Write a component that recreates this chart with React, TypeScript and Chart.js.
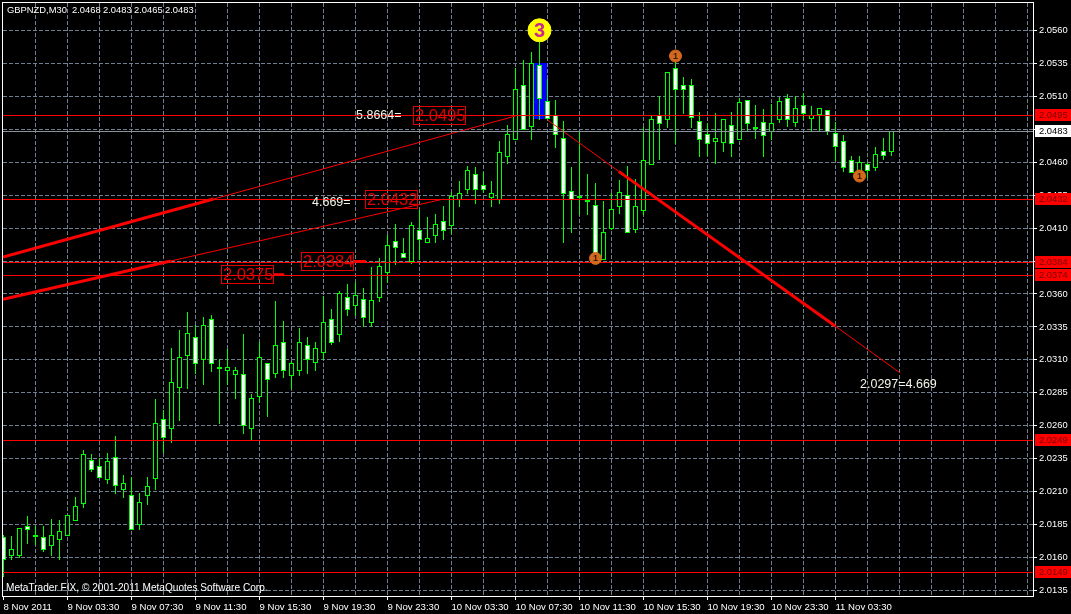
import React, { useEffect, useRef } from "react";
import { Chart, registerables } from "chart.js";

Chart.register(...registerables);

const opens = [
  2.0175, 2.0162, 2.0162, 2.0184, 2.0177, 2.0175, 2.0169, 2.0174, 2.0177, 2.0188, 2.0201, 2.0234, 2.0229, 2.0219, 2.0236, 2.0212,
  2.0207, 2.0185, 2.0207, 2.0220, 2.0265, 2.0258, 2.0289, 2.0313, 2.0327, 2.0310, 2.0341, 2.0304, 2.0302, 2.0299, 2.0299, 2.0258,
  2.0282, 2.0307, 2.0300, 2.0323, 2.0298, 2.0302, 2.0321, 2.0308, 2.0316, 2.0341, 2.0329, 2.0357, 2.0351, 2.0356, 2.0338, 2.0357,
  2.0376, 2.0400, 2.0391, 2.0385, 2.0408, 2.0399, 2.0404, 2.0415, 2.0412, 2.0432, 2.0439, 2.0451, 2.0442, 2.0433, 2.0432, 2.0464,
  2.0477, 2.0518, 2.0487, 2.0533, 2.0506, 2.0495, 2.0478, 2.0438, 2.0434, 2.0431, 2.0427, 2.0386, 2.0410, 2.0426, 2.0435, 2.0409,
  2.0423, 2.0458, 2.0495, 2.0492, 2.0531, 2.0518, 2.0518, 2.0491, 2.0481, 2.0476, 2.0475, 2.0488, 2.0477, 2.0507, 2.0486, 2.0490,
  2.0483, 2.0492, 2.0508, 2.0490, 2.0503, 2.0493, 2.0496, 2.0499, 2.0482, 2.0476, 2.0461, 2.0451, 2.0458, 2.0456, 2.0468, 2.0468,
];
const highs = [
  2.0177, 2.0176, 2.0182, 2.0191, 2.0184, 2.0184, 2.0189, 2.0188, 2.0192, 2.0206, 2.0241, 2.0238, 2.0235, 2.0239, 2.0252, 2.0222,
  2.0221, 2.0209, 2.0221, 2.0280, 2.0272, 2.0319, 2.0332, 2.0346, 2.0336, 2.0342, 2.0344, 2.0310, 2.0318, 2.0304, 2.0329, 2.0284,
  2.0323, 2.0307, 2.0354, 2.0339, 2.0309, 2.0334, 2.0327, 2.0323, 2.0358, 2.0348, 2.0362, 2.0367, 2.0369, 2.0364, 2.0380, 2.0387,
  2.0404, 2.0413, 2.0402, 2.0414, 2.0423, 2.0418, 2.0420, 2.0426, 2.0437, 2.0445, 2.0457, 2.0456, 2.0452, 2.0445, 2.0476, 2.0488,
  2.0531, 2.0537, 2.0543, 2.0551, 2.0523, 2.0507, 2.0491, 2.0456, 2.0483, 2.0451, 2.0444, 2.0430, 2.0436, 2.0446, 2.0457, 2.0447,
  2.0486, 2.0495, 2.0510, 2.0528, 2.0537, 2.0524, 2.0523, 2.0498, 2.0489, 2.0497, 2.0492, 2.0498, 2.0508, 2.0507, 2.0503, 2.0500,
  2.0504, 2.0509, 2.0511, 2.0510, 2.0512, 2.0502, 2.0501, 2.0499, 2.0490, 2.0480, 2.0464, 2.0464, 2.0460, 2.0471, 2.0478, 2.0483,
];
const lows = [
  2.0146, 2.0159, 2.0160, 2.0171, 2.0170, 2.0165, 2.0162, 2.0159, 2.0177, 2.0188, 2.0198, 2.0225, 2.0221, 2.0216, 2.0209, 2.0206,
  2.0181, 2.0181, 2.0200, 2.0212, 2.0240, 2.0247, 2.0264, 2.0288, 2.0300, 2.0291, 2.0301, 2.0262, 2.0291, 2.0281, 2.0254, 2.0250,
  2.0278, 2.0267, 2.0297, 2.0297, 2.0288, 2.0298, 2.0300, 2.0302, 2.0310, 2.0322, 2.0324, 2.0344, 2.0344, 2.0335, 2.0335, 2.0354,
  2.0369, 2.0382, 2.0388, 2.0383, 2.0386, 2.0399, 2.0399, 2.0401, 2.0406, 2.0426, 2.0436, 2.0429, 2.0437, 2.0426, 2.0429, 2.0459,
  2.0477, 2.0485, 2.0477, 2.0492, 2.0493, 2.0471, 2.0399, 2.0407, 2.0420, 2.0420, 2.0383, 2.0386, 2.0409, 2.0421, 2.0407, 2.0407,
  2.0420, 2.0458, 2.0462, 2.0486, 2.0474, 2.0497, 2.0486, 2.0464, 2.0465, 2.0459, 2.0468, 2.0464, 2.0477, 2.0483, 2.0478, 2.0464,
  2.0477, 2.0490, 2.0487, 2.0487, 2.0492, 2.0483, 2.0483, 2.0481, 2.0461, 2.0453, 2.0452, 2.0451, 2.0448, 2.0454, 2.0462, 2.0465,
];
const closes = [
  2.0159, 2.0166, 2.0182, 2.0181, 2.0177, 2.0166, 2.0177, 2.0180, 2.0192, 2.0199, 2.0238, 2.0227, 2.0221, 2.0233, 2.0215, 2.0216,
  2.0181, 2.0202, 2.0214, 2.0262, 2.0251, 2.0293, 2.0312, 2.0330, 2.0307, 2.0336, 2.0307, 2.0304, 2.0304, 2.0302, 2.0260, 2.0281,
  2.0312, 2.0295, 2.0321, 2.0302, 2.0307, 2.0323, 2.0310, 2.0319, 2.0338, 2.0323, 2.0360, 2.0348, 2.0359, 2.0342, 2.0355, 2.0381,
  2.0397, 2.0395, 2.0388, 2.0412, 2.0401, 2.0402, 2.0413, 2.0408, 2.0434, 2.0436, 2.0454, 2.0439, 2.0439, 2.0436, 2.0467, 2.0481,
  2.0515, 2.0485, 2.0535, 2.0508, 2.0493, 2.0481, 2.0436, 2.0432, 2.0434, 2.0431, 2.0391, 2.0407, 2.0424, 2.0437, 2.0407, 2.0426,
  2.0461, 2.0492, 2.0489, 2.0528, 2.0515, 2.0515, 2.0494, 2.0477, 2.0474, 2.0478, 2.0492, 2.0474, 2.0505, 2.0489, 2.0486, 2.0480,
  2.0489, 2.0506, 2.0492, 2.0501, 2.0497, 2.0495, 2.0501, 2.0483, 2.0472, 2.0456, 2.0452, 2.0460, 2.0454, 2.0466, 2.0465, 2.0483,
];

const timeLabels = [
  "8 Nov 2011", "9 Nov 03:30", "9 Nov 07:30", "9 Nov 11:30", "9 Nov 15:30", "9 Nov 19:30", "9 Nov 23:30",
  "10 Nov 03:30", "10 Nov 07:30", "10 Nov 11:30", "10 Nov 15:30", "10 Nov 19:30", "10 Nov 23:30", "11 Nov 03:30",
];
const priceTicks = [
  2.0135, 2.016, 2.0185, 2.021, 2.0235, 2.026, 2.0285, 2.031, 2.0335, 2.036, 2.0385, 2.041, 2.0435, 2.046, 2.0485, 2.051, 2.0535, 2.056,
];
const redLevels = [2.0495, 2.0432, 2.0384, 2.0374, 2.0249, 2.0149];
const bidPrice = 2.0483;

const upperThick = [{ x: -0.0625, y: 2.0388 }, { x: 26.25, y: 2.0432 }];
const upperThin = [{ x: 26.25, y: 2.0432 }, { x: 64, y: 2.0495 }];
const lowerThick = [{ x: -0.0625, y: 2.0356 }, { x: 20.9, y: 2.0385 }];
const lowerThin = [{ x: 20.9, y: 2.0385 }, { x: 55, y: 2.0432 }];
const downThin = [{ x: 68, y: 2.0492 }, { x: 76.9, y: 2.0453 }];
const downThick = [{ x: 76.9, y: 2.0453 }, { x: 104, y: 2.03355 }];
const downTail = [{ x: 104, y: 2.03355 }, { x: 112.1, y: 2.03 }];
const stubA = [{ x: 43.8, y: 2.0385 }, { x: 45.3, y: 2.0385 }];
const stubB = [{ x: 33.8, y: 2.0375 }, { x: 35.1, y: 2.0375 }];

const highlightBox = [{ x: 67.125, y: [2.0493, 2.0535] }];
const waveThree = [{ x: 67, y: 2.056 }];
const waveOnes = [{ x: 74, y: 2.0387 }, { x: 84, y: 2.05405 }, { x: 107, y: 2.04495 }];

const boxedLabels = ["2.0495", "2.0432", "2.0384", "2.0375"];
const headerValues = ["2.0468", "2.0483", "2.0465", "2.0483"];

const X_MIN = -0.0625;
const X_MAX = 128.6875;
const GREEN = "#00ff00";
const RED = "#ff0000";
const GRID = "#708090";
const FONT = '"Liberation Sans", Arial, sans-serif';

const drawOverlay = {
  id: "mt4Overlay",
  beforeDraw(chart: any) {
    const c = chart.ctx;
    c.save();
    c.fillStyle = "#000";
    c.fillRect(0, 0, chart.width, chart.height);
    c.restore();
  },
  afterDatasetsUpdate(chart: any) {
    chart.data.datasets.forEach((ds: any, idx: number) => {
      const meta = chart.getDatasetMeta(idx);
      if (ds.snap === "bar") {
        meta.data.forEach((el: any) => {
          const top = Math.floor(Math.min(el.y, el.base));
          let bottom = Math.floor(Math.max(el.y, el.base)) + 1;
          if (ds.minRows && bottom - top < ds.minRows) bottom = top + ds.minRows;
          el.y = top;
          el.base = bottom;
        });
      } else if (ds.snap === "line") {
        meta.data.forEach((el: any) => {
          el.y = Math.floor(el.y) + 0.5;
        });
      }
    });
  },
  afterDraw(chart: any) {
    const c = chart.ctx;
    const { left, right, top, bottom } = chart.chartArea;
    const yS = chart.scales.y;
    c.save();
    // frame
    c.fillStyle = "#fff";
    c.fillRect(left - 1, top - 1, right - left + 2, 1);
    c.fillRect(left - 1, bottom, right - left + 2, 1);
    c.fillRect(left - 1, top - 1, 1, bottom - top + 2);
    c.fillRect(right, top - 1, 1, bottom - top + 2);

    // header
    c.textBaseline = "middle";
    c.textAlign = "left";
    c.font = `9.4px ${FONT}`;
    c.fillStyle = "#fff";
    c.fillText("GBPNZD,M30", 7, 10.5);
    [72, 103, 134, 165].forEach((x, i) => c.fillText(headerValues[i], x, 10.5));

    // watermark
    c.font = `10.1px ${FONT}`;
    c.fillText("MetaTrader FIX, \u00a9 2001-2011 MetaQuotes Software Corp.", 6, 588.5);

    // white notes
    c.font = `12.5px ${FONT}`;
    c.fillStyle = "#f4f4e8";
    c.fillText("5.8664=", 356, 115.5);
    c.fillText("4.669=", 312, 202.5);
    c.fillText("2.0297=4.669", 860, 384.5);

    // boxed red notes
    const boxes = [
      [413, 106],
      [365, 190],
      [301, 252],
      [221, 265],
    ];
    c.font = `16.5px ${FONT}`;
    boxes.forEach(([x, y], i) => {
      c.strokeStyle = "#e00000";
      c.lineWidth = 1;
      c.strokeRect(x + 0.5, y + 0.5, 52, 18);
      c.fillStyle = "#e00000";
      c.fillText(boxedLabels[i], x + 2, y + 10);
    });

    // wave marks
    const xS = chart.scales.x;
    c.textAlign = "center";
    c.font = `bold 20px ${FONT}`;
    c.fillStyle = "#c8288c";
    c.fillText("3", xS.getPixelForValue(waveThree[0].x), yS.getPixelForValue(waveThree[0].y) + 1);
    c.font = `bold 9px ${FONT}`;
    c.fillStyle = "#3a1c00";
    waveOnes.forEach((p) => c.fillText("1", xS.getPixelForValue(p.x), yS.getPixelForValue(p.y) + 0.5));

    // axis price tags
    c.textAlign = "left";
    c.font = `9.4px ${FONT}`;
    redLevels.forEach((v) => {
      const py = Math.floor(yS.getPixelForValue(v));
      c.fillStyle = RED;
      c.fillRect(1035, py - 6, 36, 12);
      c.fillStyle = "#7a0000";
      c.fillText(v.toFixed(4), 1039, py + 0.5);
    });
    const by = Math.floor(yS.getPixelForValue(bidPrice));
    c.fillStyle = "#fff";
    c.fillRect(1035, by - 6, 36, 12);
    c.fillStyle = "#000";
    c.fillText(bidPrice.toFixed(4), 1039, by + 0.5);
    c.restore();
  },
};

const hLine = (v: number, color: string) => ({
  type: "line",
  data: [{ x: X_MIN, y: v }, { x: X_MAX, y: v }],
  borderColor: color,
  borderWidth: 1,
  pointRadius: 0,
  snap: "line",
  order: 1,
});
const seg = (data: any[], width: number) => ({
  type: "line",
  data,
  borderColor: RED,
  borderWidth: width,
  pointRadius: 0,
  order: 1,
});

export default function App() {
  const ref = useRef<HTMLCanvasElement | null>(null);
  useEffect(() => {
    document.body.style.margin = "0";
    document.body.style.background = "#000";
    const idx = opens.map((_, i) => i);
    const chart = new Chart(ref.current as HTMLCanvasElement, {
      type: "bar",
      data: {
        datasets: [
          {
            type: "scatter",
            data: waveThree,
            backgroundColor: "#ffff00",
            borderColor: "#ffff00",
            pointRadius: 11.5,
            order: 0,
          },
          {
            type: "scatter",
            data: waveOnes,
            backgroundColor: "#d2691e",
            borderColor: "#d2691e",
            pointRadius: 6,
            order: 0,
          },
          ...redLevels.map((v) => hLine(v, RED)),
          hLine(bidPrice, "#8a939c"),
          seg(upperThick, 3),
          seg(upperThin, 1),
          seg(lowerThick, 3),
          seg(lowerThin, 1),
          seg(downThin, 1),
          seg(downThick, 3),
          seg(downTail, 1),
          seg(stubA, 2),
          seg(stubB, 2),
          {
            type: "bar",
            data: idx.map((i) => ({ x: i, y: [opens[i], closes[i]] })),
            backgroundColor: idx.map((i) => (closes[i] < opens[i] ? "#ffffff" : closes[i] === opens[i] ? GREEN : "#000000")),
            borderColor: GREEN,
            borderWidth: 1,
            borderSkipped: false,
            barThickness: 5,
            grouped: false,
            inflateAmount: 0,
            snap: "bar",
            minRows: 2,
            order: 2,
          },
          {
            type: "bar",
            data: idx.map((i) => ({ x: i, y: [lows[i], highs[i]] })),
            backgroundColor: GREEN,
            borderWidth: 0,
            barThickness: 1,
            grouped: false,
            inflateAmount: 0,
            snap: "bar",
            order: 3,
          },
          {
            type: "bar",
            data: highlightBox,
            backgroundColor: "#0000ff",
            borderWidth: 0,
            barThickness: 13,
            grouped: false,
            inflateAmount: 0,
            snap: "bar",
            order: 4,
          },
        ] as any,
      },
      options: {
        animation: false,
        responsive: false,
        maintainAspectRatio: false,
        events: [],
        layout: { autoPadding: false, padding: { left: 3, top: 3, right: 0, bottom: 0 } },
        plugins: { legend: { display: false }, tooltip: { enabled: false }, title: { display: false } },
        scales: {
          x: {
            type: "linear",
            bounds: "data",
            offset: false,
            min: X_MIN,
            max: X_MAX,
            afterBuildTicks(scale: any) {
              const t = [];
              for (let v = 0; v <= 128; v += 4) t.push({ value: v });
              scale.ticks = t;
            },
            afterFit(scale: any) {
              scale.height = 18;
              scale.paddingLeft = scale.paddingRight = scale.paddingTop = scale.paddingBottom = 0;
            },
            border: { display: false, dash: [4, 2] },
            grid: {
              offset: false,
              color: (ctx: any) => (ctx.tick && ctx.tick.value === 0 ? "rgba(0,0,0,0)" : GRID),
              tickColor: (ctx: any) =>
                ctx.tick && ctx.tick.value % 8 === 0 && timeLabels[ctx.tick.value / 8] ? "#fff" : "rgba(0,0,0,0)",
              tickLength: 4,
              tickBorderDash: [],
            },
            ticks: {
              autoSkip: false,
              maxRotation: 0,
              minRotation: 0,
              align: "start",
              padding: 2,
              color: "#fff",
              font: { family: FONT, size: 9.6 },
              callback: (v: number) => (v % 8 === 0 && timeLabels[v / 8]) || "",
            },
          },
          y: {
            type: "linear",
            position: "right",
            bounds: "data",
            min: 2.013094,
            max: 2.05807,
            afterBuildTicks(scale: any) {
              scale.ticks = priceTicks.map((value) => ({ value }));
            },
            afterFit(scale: any) {
              scale.width = 38;
              scale.paddingLeft = scale.paddingRight = scale.paddingTop = scale.paddingBottom = 0;
            },
            border: { display: false, dash: [4, 2] },
            grid: {
              color: GRID,
              tickColor: "#fff",
              tickLength: 4,
              tickBorderDash: [],
            },
            ticks: {
              padding: 2,
              color: "#fff",
              font: { family: FONT, size: 9.4 },
              callback: (v: number) => v.toFixed(4),
            },
          },
        },
      } as any,
      plugins: [drawOverlay],
    } as any);
    return () => chart.destroy();
  }, []);
  return (
    <div style={{ position: "absolute", left: 0, top: 0, width: 1071, height: 614, background: "#000" }}>
      <canvas ref={ref} width={1071} height={614} style={{ display: "block" }} />
    </div>
  );
}
